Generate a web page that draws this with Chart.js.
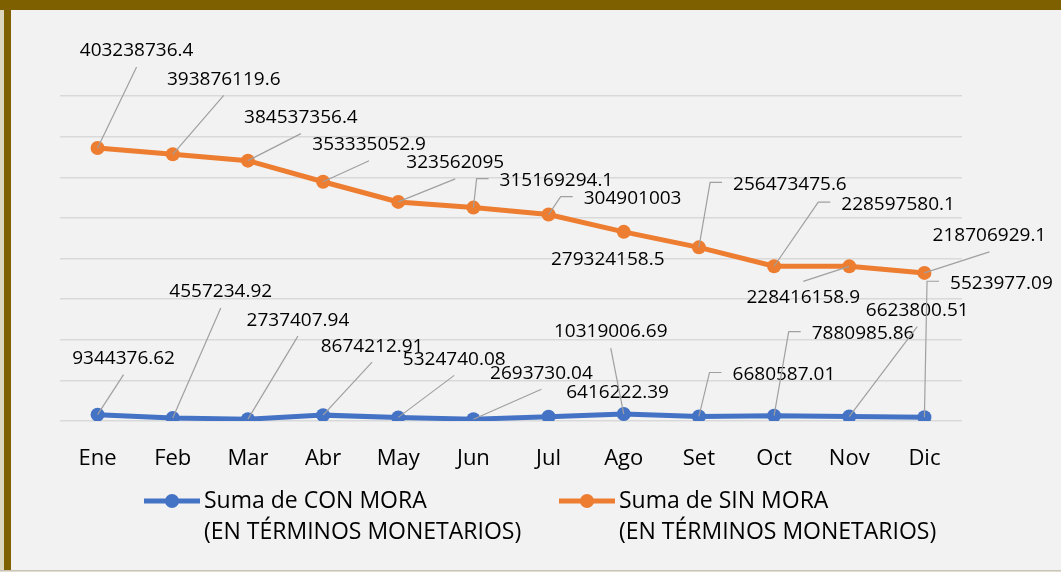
<!DOCTYPE html>
<html>
<head>
<meta charset="utf-8">
<script src="https://cdn.jsdelivr.net/npm/chart.js@4.4.0/dist/chart.umd.min.js"></script>
<style>
  body { margin: 0; background: #e0dccf; }
  canvas { display: block; }
</style>
</head>
<body>
<canvas id="lineChart" width="1061" height="572"></canvas>
<script>
var meses = ["Ene", "Feb", "Mar", "Abr", "May", "Jun", "Jul", "Ago", "Set", "Oct", "Nov", "Dic"];
var conMora = [9344376.62, 4557234.92, 2737407.94, 8674212.91, 5324740.08, 2693730.04,
               6416222.39, 10319006.69, 6680587.01, 7880985.86, 6623800.51, 5523977.09];
var sinMora = [403238736.4, 393876119.6, 384537356.4, 353335052.9, 323562095, 315169294.1,
               304901003, 279324158.5, 256473475.6, 228597580.1, 228416158.9, 218706929.1];
var nombreCon = ["Suma de CON MORA", "(EN TÉRMINOS MONETARIOS)"];
var nombreSin = ["Suma de SIN MORA", "(EN TÉRMINOS MONETARIOS)"];
var ejeMax = 480000000;
var ejePaso = 60000000;

// where each data label sits relative to its point: dx, dy, leader type
// b = leader to bottom of label, t = to top, l = elbow to left side, "" = none
var posSin = [[39, -97, "b"], [51, -75, "b"], [53, -43, "b"], [46, -37, "b"], [57, -39, "b"], [83, -27, "l"],
              [84, -16, "l"], [-16, 28, ""], [91, -63, "l"], [124, -62, "l"], [-46, 31, "t"], [65, -37, "b"]];
var posCon = [[26, -56, "b"], [48, -126, "b"], [50, -99, "b"], [49, -69, "b"], [56, -58, "b"], [68, -46, "b"],
              [69, -24, ""], [-13, -82, "b"], [85, -42, "l"], [89, -82, "l"], [68, -106, "b"], [77, -134, "l"]];

var azul = "#4472C4";
var naranja = "#ED7D31";
var texto = "#000000";
var fuente = '"Open Sans", "Noto Sans", sans-serif';

var marco = {
  id: "marco",
  beforeDraw: function(chart) {
    var c = chart.ctx, w = chart.width, h = chart.height;
    c.save();
    c.fillStyle = "#F2F2F2";
    c.fillRect(0, 0, w, h);
    c.fillStyle = "#dcd6bf";
    c.fillRect(0, 0, 4, h);
    c.fillStyle = "#7F6000";
    c.fillRect(0, 0, w, 10);
    c.fillRect(4, 0, 7, h);
    c.fillStyle = "#c8c4b8";
    c.fillRect(0, 570, w, 1);
    c.fillStyle = "#e0dccf";
    c.fillRect(0, 571, w, 1);
    c.restore();
  }
};

function etiquetas(chart, idx, pos) {
  var c = chart.ctx;
  var meta = chart.getDatasetMeta(idx);
  var valores = chart.data.datasets[idx].data;
  c.font = "19px " + fuente;
  meta.data.forEach(function(p, i) {
    var e = pos[i];
    var txt = String(valores[i]);
    var w = c.measureText(txt).width;
    var cx = p.x + e[0], cy = p.y + e[1];
    c.strokeStyle = "#A0A0A0";
    c.lineWidth = 1.2;
    c.beginPath();
    if (e[2] === "b") {
      c.moveTo(p.x, p.y); c.lineTo(cx, cy + 16);
    } else if (e[2] === "t") {
      c.moveTo(p.x, p.y); c.lineTo(cx, cy - 16);
    } else if (e[2] === "l") {
      var izq = cx - w / 2;
      c.moveTo(p.x, p.y); c.lineTo(izq - 23, cy - 2); c.lineTo(izq - 11, cy - 2);
    }
    c.stroke();
    c.fillStyle = texto;
    c.textAlign = "center";
    c.textBaseline = "middle";
    c.fillText(txt, cx, cy);
  });
}

function leyenda(c, x, y, color, lineas) {
  c.strokeStyle = color;
  c.lineWidth = 5;
  c.beginPath();
  c.moveTo(x, y); c.lineTo(x + 56, y);
  c.stroke();
  c.fillStyle = color;
  c.beginPath();
  c.arc(x + 28, y, 7, 0, Math.PI * 2);
  c.fill();
  c.fillStyle = texto;
  c.font = "23px " + fuente;
  c.textAlign = "left";
  c.textBaseline = "middle";
  c.fillText(lineas[0], x + 60, y);
  c.fillText(lineas[1], x + 60, y + 31);
}

var extras = {
  id: "extras",
  afterDatasetsDraw: function(chart) {
    var c = chart.ctx;
    c.save();
    etiquetas(chart, 1, posSin);
    etiquetas(chart, 0, posCon);
    leyenda(c, 144, 501, azul, nombreCon);
    leyenda(c, 559, 501, naranja, nombreSin);
    c.restore();
  }
};

var ctx = document.getElementById("lineChart").getContext("2d");
var myLineChart = new Chart(ctx, {
  type: "line",
  data: {
    labels: meses,
    datasets: [
      {
        label: nombreCon.join(" "),
        data: conMora,
        borderColor: azul,
        backgroundColor: azul,
        borderWidth: 5,
        pointRadius: 7,
        pointBorderWidth: 0,
        tension: 0
      },
      {
        label: nombreSin.join(" "),
        data: sinMora,
        borderColor: naranja,
        backgroundColor: naranja,
        borderWidth: 5,
        pointRadius: 7,
        pointBorderWidth: 0,
        tension: 0
      }
    ]
  },
  options: {
    responsive: false,
    animation: false,
    layout: { padding: { left: 60, right: 99, top: 96, bottom: 101 } },
    plugins: {
      legend: { display: false },
      tooltip: { enabled: false }
    },
    scales: {
      x: {
        offset: true,
        grid: { display: false, drawTicks: false },
        border: { display: false },
        ticks: { color: texto, font: { family: fuente, size: 22 }, padding: 25 },
        afterFit: function(s) { s.height = 50; }
      },
      y: {
        min: 0,
        max: ejeMax,
        grid: { color: "#D9D9D9", lineWidth: 1.5, drawTicks: false },
        border: { display: false },
        ticks: { display: false, stepSize: ejePaso },
        afterFit: function(s) { s.width = 0; }
      }
    }
  },
  plugins: [marco, extras]
});
</script>
</body>
</html>
